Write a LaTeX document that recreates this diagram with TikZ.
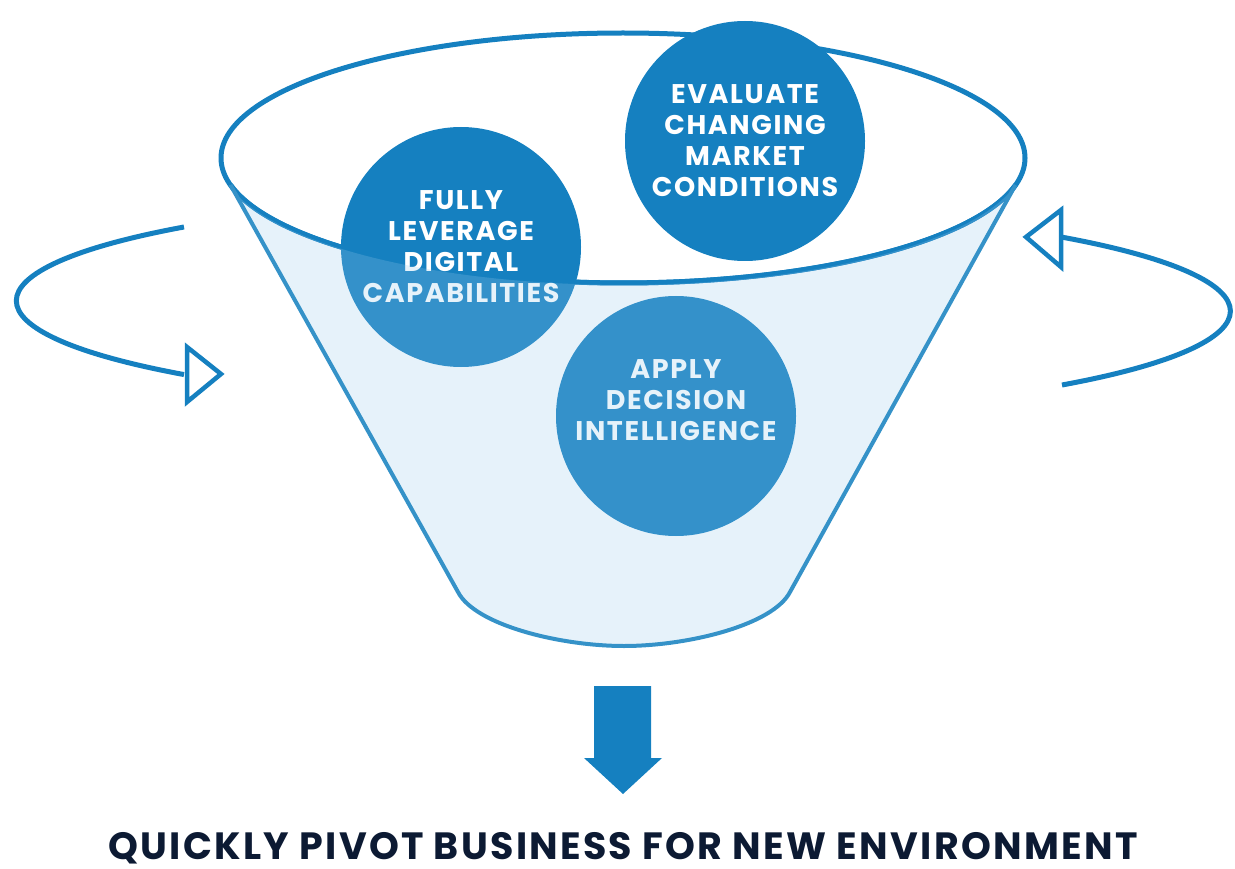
\documentclass[tikz,border=0pt]{standalone}
\usepackage{fontspec}
\setmainfont{Poppins}
\definecolor{funnelblue}{RGB}{21,128,192}
\definecolor{sideblue}{RGB}{53,146,200}
\definecolor{glassblue}{RGB}{152,202,235}
\definecolor{navy}{RGB}{12,26,51}

\begin{document}
\begin{tikzpicture}[x=1pt,y=-1pt,
  bubble/.style={circle,minimum size=240pt,inner sep=0pt,fill=funnelblue},
  bubbletext/.style={text=white,align=center,
    font=\bfseries\fontsize{27}{31}\selectfont\addfontfeatures{LetterSpace=6}},
  rim/.style={draw=funnelblue,line width=5pt},
  glass/.style={fill=glassblue,fill opacity=0.24},
  side/.style={draw=sideblue,line width=4pt,line join=round},
  turn/.style={draw=funnelblue,line width=5pt},
  turntip/.style={draw=funnelblue,fill=white,line width=4.5pt,line join=miter}]
  \useasboundingbox (0,0) rectangle (1235,869);

  \draw[turn] (184,227) arc[start angle=223.6,end angle=136.4,x radius=608,y radius=107];
  \draw[turntip] (187,347) -- (221,374) -- (187,402) -- cycle;
  \draw[turn] (1062,385) arc[start angle=43.7,end angle=-43.7,x radius=608,y radius=107];
  \draw[turntip] (1061,210) -- (1026,237) -- (1061,267) -- cycle;

  \draw[rim] (623,158) ellipse[x radius=402,y radius=125];

  \path
  node[bubble] (leverage) at (461,247) {}
  node[bubble] (evaluate) at (745,141) {}
  node[bubble] (apply) at (676,416) {}
  ;
  \draw[rim] (1015.5,185) arc[start angle=12.5,end angle=167.5,x radius=402,y radius=125];

  \path
  node[bubbletext] (levertext) at (leverage.center) {FULLY\\LEVERAGE\\DIGITAL\\CAPABILITIES}
  node[bubbletext] (evaltext) at (evaluate.center) {EVALUATE\\CHANGING\\MARKET\\CONDITIONS}
  node[bubbletext] (applytext) at ([yshift=16pt]apply.center) {APPLY\\DECISION\\INTELLIGENCE}
  ;

  \fill[glass] (230.5,185) -- (458,592)
    .. controls (475,625) and (560,646) .. (624,646)
    .. controls (688,646) and (773,625) .. (790,592)
    -- (1015.5,185) arc[start angle=12.5,end angle=167.5,x radius=403,y radius=127.5] -- cycle;
  \draw[side] (230.5,185) -- (458,592)
    .. controls (475,625) and (560,646) .. (624,646)
    .. controls (688,646) and (773,625) .. (790,592)
    -- (1015.5,185);

  \fill[funnelblue] (594,686) -- (651,686) -- (651,758) -- (662,758) -- (623,794)
    -- (584,758) -- (594,758) -- cycle;
  \path node[text=navy,anchor=base,inner sep=0pt,text depth=0pt,
    font=\bfseries\fontsize{38}{40}\selectfont\addfontfeatures{LetterSpace=6}] (goal) at (623,859)
    {QUICKLY PIVOT BUSINESS FOR NEW ENVIRONMENT};
\end{tikzpicture}
\end{document}
